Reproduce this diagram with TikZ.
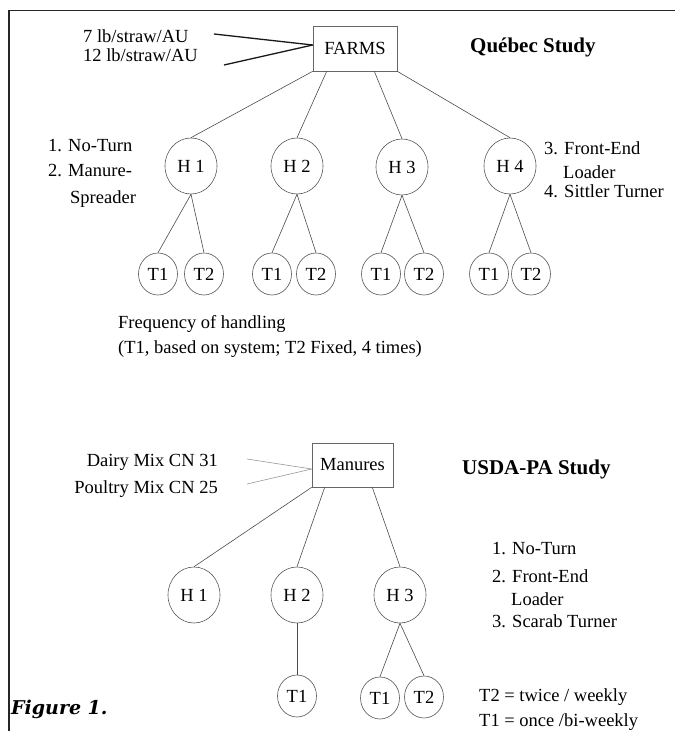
\documentclass[tikz,border=0pt]{standalone}
\usepackage{fontspec}
\setmainfont{Liberation Serif}
\newfontfamily\figfont{DejaVu Serif}
\usetikzlibrary{shapes.geometric}
\newcommand\myfs{\fontsize{18.5}{22}\selectfont}
\newcommand\mytf{\fontsize{21}{25}\selectfont\bfseries}
\begin{document}
\begin{tikzpicture}[x=1pt,y=-1pt,
  hnode/.style={ellipse, draw=black!65, line width=0.6pt, minimum width=52pt, minimum height=56pt, inner sep=0pt, font=\myfs},
  tnode/.style={ellipse, draw=black!65, line width=0.6pt, minimum width=39pt, minimum height=42pt, inner sep=0pt, font=\myfs},
  boxnode/.style={rectangle, draw=black!60, line width=0.6pt, inner sep=0pt, font=\myfs},
  conn/.style={draw=black!70, line width=0.6pt},
  thickconn/.style={draw=black!90, line width=1.3pt},
  lightconn/.style={draw=black!40, line width=0.6pt},
  lbl/.style={anchor=base west, inner sep=0pt, font=\myfs},
  rlbl/.style={anchor=base east, inner sep=0pt, font=\myfs},
  ttl/.style={anchor=base west, inner sep=0pt, font=\mytf},
  framestyle/.style={draw=black!85, line width=1.2pt}]
\useasboundingbox (0,0) rectangle (675,731);
\fill[white] (0,0) rectangle (675,731);
\draw[framestyle] (9,731) -- (9,10.5) -- (675,10.5);

% ---------- Quebec study ----------
\node[boxnode, minimum width=84pt, minimum height=45pt] (farms) at (355,48.5) {FARMS};
\node[ttl] (qtitle) at (470,52) {Québec Study};
\node[lbl] (l7) at (83,42) {7 lb/straw/AU};
\node[lbl] (l12) at (83,61) {12 lb/straw/AU};
\coordinate (a1) at (214,34);
\coordinate (a2) at (224,65);
\coordinate (fin) at ([yshift=3.5pt]farms.west);
\draw[thickconn] (a1) -- (fin);
\draw[thickconn] (a2) -- (fin);

\node[hnode] (h1) at (191,166) {H 1};
\node[hnode] (h2) at (297,166) {H 2};
\node[hnode] (h3) at (402,167) {H 3};
\node[hnode] (h4) at (510,166) {H 4};

\coordinate (f2) at ([xshift=14pt]farms.south west);
\coordinate (f3) at ([xshift=-23pt]farms.south east);
\draw[conn] (farms.south west) -- (h1.north);
\draw[conn] (f2) -- (h2.north);
\draw[conn] (f3) -- (h3.north);
\draw[conn] (farms.south east) -- (h4.north);

\node[tnode] (t11) at (158,274) {T1};
\node[tnode] (t12) at (204,274) {T2};
\node[tnode] (t21) at (272,274) {T1};
\node[tnode] (t22) at (316,274) {T2};
\node[tnode] (t31) at (381,274) {T1};
\node[tnode] (t32) at (424,274) {T2};
\node[tnode] (t41) at (489,274) {T1};
\node[tnode] (t42) at (531,274) {T2};

\draw[conn] (h1.south) -- (t11.north);
\draw[conn] (h1.south) -- (t12.north);
\draw[conn] (h2.south) -- (t21.north);
\draw[conn] (h2.south) -- (t22.north);
\draw[conn] (h3.south) -- (t31.north);
\draw[conn] (h3.south) -- (t32.north);
\draw[conn] (h4.south) -- (t41.north);
\draw[conn] (h4.south) -- (t42.north);

\node[lbl] (q1) at (48,151) {1. No-Turn};
\node[lbl] (q2) at (48,176) {2. Manure-};
\node[lbl] (q2b) at (70,203) {Spreader};
\node[lbl] (q3) at (544,154) {3. Front-End};
\node[lbl] (q3b) at (563,178) {Loader};
\node[lbl] (q4) at (544,197) {4. Sittler Turner};

\node[lbl] (freq) at (118,328) {Frequency of handling};
\node[lbl] (freq2) at (118,353) {(T1, based on system; T2 Fixed, 4 times)};

% ---------- USDA-PA study ----------
\node[boxnode, minimum width=81pt, minimum height=44pt] (man) at (352.5,465) {Manures};
\node[ttl] (utitle) at (462,474) {USDA-PA Study};
\node[rlbl] (dairy) at (218,466) {Dairy Mix CN 31};
\node[rlbl] (poultry) at (218,493) {Poultry Mix CN 25};
\coordinate (d1) at (247,459);
\coordinate (d2) at (247,484);
\coordinate (min) at ([yshift=-4pt]man.west);
\draw[lightconn] (d1) -- (min);
\draw[lightconn] (d2) -- (min);

\node[hnode] (lh1) at (194,595) {H 1};
\node[hnode] (lh2) at (297,595) {H 2};
\node[hnode] (lh3) at (400,595) {H 3};
\coordinate (m2) at ([xshift=13pt]man.south west);
\coordinate (m3) at ([xshift=-21pt]man.south east);
\draw[conn] (man.south west) -- (lh1.north);
\draw[conn] (m2) -- (lh2.north);
\draw[conn] (m3) -- (lh3.north);

\node[tnode] (lt21) at (297,696) {T1};
\node[tnode] (lt31) at (380,698) {T1};
\node[tnode] (lt32) at (424,697) {T2};
\draw[conn] (lh2.south) -- (lt21.north);
\draw[conn] (lh3.south) -- (lt31.north);
\draw[conn] (lh3.south) -- (lt32.north);

\node[lbl] (u1) at (492,554) {1. No-Turn};
\node[lbl] (u2) at (492,582) {2. Front-End};
\node[lbl] (u2b) at (511,605) {Loader};
\node[lbl] (u3) at (492,627) {3. Scarab Turner};
\node[lbl] (k2) at (479,701) {T2 = twice / weekly};
\node[lbl] (k1) at (479,726) {T1 = once /bi-weekly};

\node[anchor=base west, inner sep=0pt, font=\figfont\fontsize{19}{23}\selectfont\bfseries\itshape] (fig) at (11,714) {Figure 1.};
\end{tikzpicture}
\end{document}
